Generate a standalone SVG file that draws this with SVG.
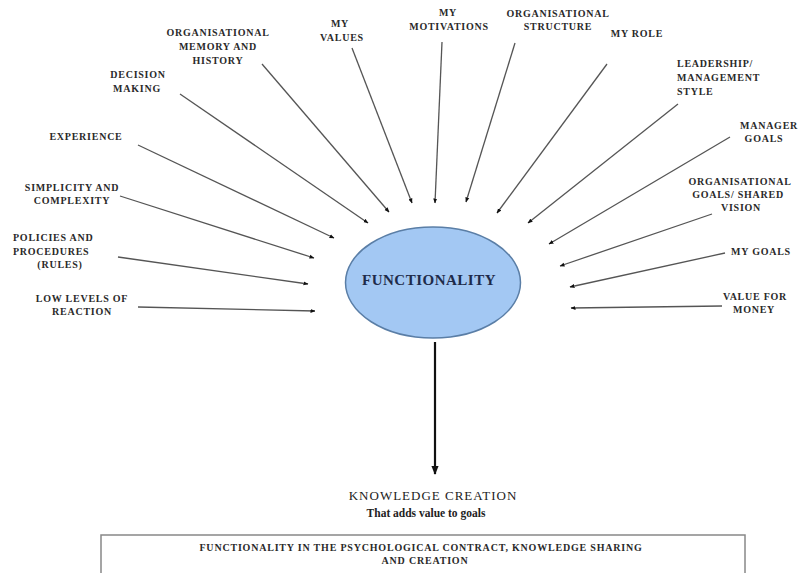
<svg xmlns="http://www.w3.org/2000/svg" width="798" height="573" viewBox="0 0 798 573">
<style>
.lbl{font-family:"Liberation Serif","DejaVu Serif",serif;font-weight:bold;font-size:10px;fill:#2a2a2a;letter-spacing:0.75px}
.c{text-anchor:middle}
.con{stroke:#555;stroke-width:1.3;fill:none;marker-end:url(#ah)}
.serif{font-family:"Liberation Serif","DejaVu Serif",serif}
</style>
<defs>
<marker id="ah" viewBox="0 0 10 10" refX="9" refY="5" markerWidth="5" markerHeight="5" orient="auto" markerUnits="userSpaceOnUse">
<path d="M0,1 L10,5 L0,9 Z" fill="#111"/>
</marker>
<marker id="ah2" viewBox="0 0 10 10" refX="9" refY="5" markerWidth="9" markerHeight="9" orient="auto" markerUnits="userSpaceOnUse">
<path d="M0,1 L10,5 L0,9 Z" fill="#111"/>
</marker>
</defs>
<rect width="798" height="573" fill="#fff"/>

<g id="connectors">
<line class="con" x1="262" y1="64" x2="389" y2="212"/>
<line class="con" x1="180" y1="94" x2="368" y2="223"/>
<line class="con" x1="138" y1="145" x2="334" y2="238"/>
<line class="con" x1="120" y1="196" x2="314" y2="258"/>
<line class="con" x1="118" y1="257" x2="308" y2="284"/>
<line class="con" x1="138" y1="307" x2="315" y2="311"/>
<line class="con" x1="352" y1="48" x2="412" y2="203"/>
<line class="con" x1="442" y1="42" x2="435" y2="203"/>
<line class="con" x1="515" y1="43" x2="466" y2="202"/>
<line class="con" x1="607" y1="64" x2="497" y2="213"/>
<line class="con" x1="678" y1="104" x2="528" y2="223"/>
<line class="con" x1="730" y1="137" x2="549" y2="244"/>
<line class="con" x1="712" y1="214" x2="560" y2="266"/>
<line class="con" x1="725" y1="253" x2="570" y2="287"/>
<line class="con" x1="722" y1="306" x2="571" y2="308"/>
<line x1="435" y1="342" x2="435" y2="474" stroke="#111" stroke-width="2.2" marker-end="url(#ah2)"/>
</g>

<g id="functionality">
<ellipse cx="433" cy="282.5" rx="87.5" ry="55.5" fill="#a3c8f3" stroke="#5a7ea6" stroke-width="1.5"/>
<text class="serif" x="429" y="285" text-anchor="middle" font-weight="bold" font-size="15" letter-spacing="0.5" fill="#1e2b4a">FUNCTIONALITY</text>
</g>

<g id="org-memory"><text class="lbl c" x="218" y="36">ORGANISATIONAL</text><text class="lbl c" x="218" y="50">MEMORY AND</text><text class="lbl c" x="218" y="64">HISTORY</text></g>
<g id="my-values"><text class="lbl c" x="340" y="27">MY</text><text class="lbl c" x="342" y="41">VALUES</text></g>
<g id="decision-making"><text class="lbl c" x="138" y="78">DECISION</text><text class="lbl c" x="137" y="92">MAKING</text></g>
<g id="experience"><text class="lbl c" x="86" y="140">EXPERIENCE</text></g>
<g id="simplicity"><text class="lbl c" x="72" y="191">SIMPLICITY AND</text><text class="lbl c" x="72" y="204">COMPLEXITY</text></g>
<g id="policies"><text class="lbl" x="13" y="241">POLICIES AND</text><text class="lbl" x="13" y="255">PROCEDURES</text><text class="lbl c" x="60" y="268">(RULES)</text></g>
<g id="low-levels"><text class="lbl c" x="82" y="302">LOW LEVELS OF</text><text class="lbl c" x="82" y="315">REACTION</text></g>
<g id="my-motivations"><text class="lbl c" x="448" y="16">MY</text><text class="lbl c" x="449" y="30">MOTIVATIONS</text></g>
<g id="org-structure"><text class="lbl c" x="558" y="17">ORGANISATIONAL</text><text class="lbl c" x="558" y="30">STRUCTURE</text></g>
<g id="my-role"><text class="lbl c" x="637" y="37">MY ROLE</text></g>
<g id="leadership"><text class="lbl" x="677" y="67">LEADERSHIP/</text><text class="lbl" x="677" y="81">MANAGEMENT</text><text class="lbl" x="677" y="95">STYLE</text></g>
<g id="manager-goals"><text class="lbl" x="740" y="129">MANAGER</text><text class="lbl c" x="764" y="142">GOALS</text></g>
<g id="org-goals"><text class="lbl c" x="740" y="185">ORGANISATIONAL</text><text class="lbl c" x="738" y="198">GOALS/ SHARED</text><text class="lbl c" x="741" y="211">VISION</text></g>
<g id="my-goals"><text class="lbl c" x="761" y="255">MY GOALS</text></g>
<g id="value-for-money"><text class="lbl c" x="755" y="300">VALUE FOR</text><text class="lbl c" x="754" y="313">MONEY</text></g>

<g id="knowledge-creation">
<text class="serif" x="433" y="500" text-anchor="middle" font-size="13" letter-spacing="1" fill="#222">KNOWLEDGE CREATION</text>
<text class="serif" x="426" y="517" text-anchor="middle" font-weight="bold" font-size="11.5" fill="#222">That adds value to goals</text>
</g>

<g id="caption">
<rect x="101" y="535" width="644" height="45" fill="#fff" stroke="#888" stroke-width="1.5"/>
<text class="serif" x="421" y="551" text-anchor="middle" font-weight="bold" font-size="10" letter-spacing="0.8" fill="#2a2a2a">FUNCTIONALITY IN THE PSYCHOLOGICAL CONTRACT, KNOWLEDGE SHARING</text>
<text class="serif" x="425" y="564" text-anchor="middle" font-weight="bold" font-size="10" letter-spacing="0.8" fill="#2a2a2a">AND CREATION</text>
</g>
</svg>
